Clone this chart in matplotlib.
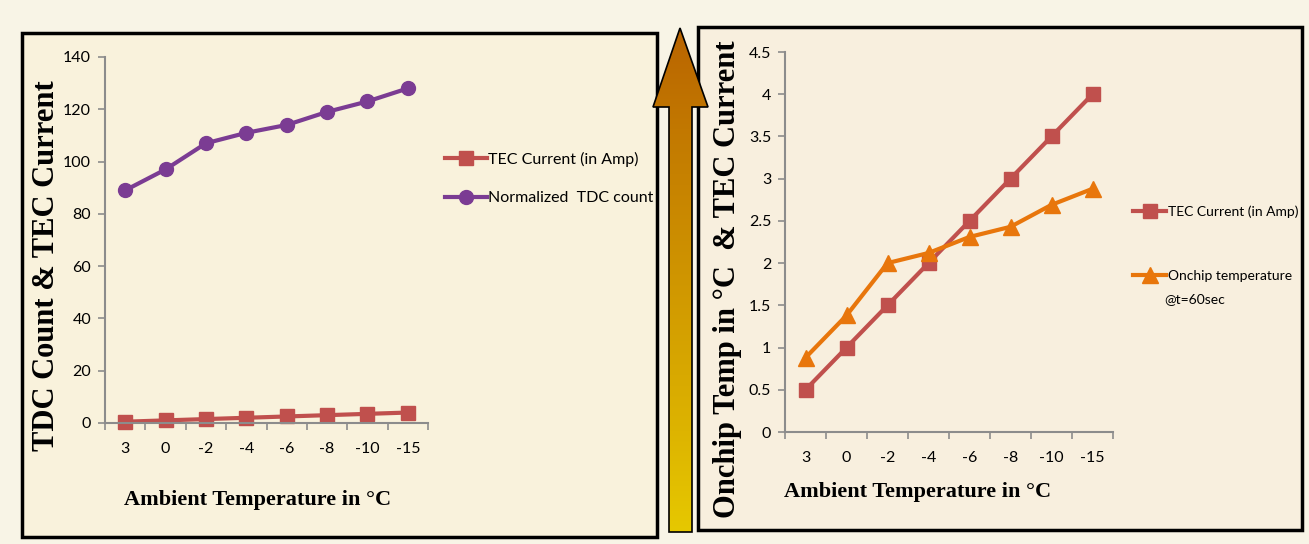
import numpy as np
import matplotlib.pyplot as plt
from matplotlib.patches import Rectangle, Polygon
from matplotlib.colors import LinearSegmentedColormap

# data
ambient = ['3', '0', '-2', '-4', '-6', '-8', '-10', '-15']
tec_current = [0.5, 1.0, 1.5, 2.0, 2.5, 3.0, 3.5, 4.0]
tdc_count = [89, 97, 107, 111, 114, 119, 123, 128]
onchip_temp = [0.88, 1.38, 2.0, 2.12, 2.31, 2.43, 2.69, 2.88]

W, H = 1309, 544
red = '#c0504d'
purple = '#7b3c93'
orange = '#e8760c'
tick_font = ['Lato', 'DejaVu Sans']
serif = ['Liberation Serif', 'DejaVu Serif']

fig = plt.figure(figsize=(W / 100, H / 100), dpi=100)
fig.patch.set_facecolor('#f8f4e6')

def px_axes(x0, y0, x1, y1, **kw):
    # pixel box (top-left origin) -> figure fraction
    return fig.add_axes([x0 / W, 1 - y1 / H, (x1 - x0) / W, (y1 - y0) / H], **kw)

# background overlay: boxes + arrow
bg = px_axes(0, 0, W, H, zorder=0)
bg.set_xlim(0, W)
bg.set_ylim(H, 0)
bg.axis('off')
bg.add_patch(Rectangle((22, 33), 635, 504, facecolor='#f9f2dc', edgecolor='black', lw=2.5))
bg.add_patch(Rectangle((698, 27), 604, 503, facecolor='#f8efde', edgecolor='black', lw=2.5))
arrow_pts = [(669, 532), (669, 107), (653, 107), (680, 28), (708, 107), (692, 107), (692, 532)]
grad = np.linspace(0, 1, 256).reshape(-1, 1)
im = bg.imshow(grad, extent=(653, 708, 532, 28), aspect='auto',
               cmap=LinearSegmentedColormap.from_list('ar', ['#b96400', '#e6c800']), zorder=2)
poly = Polygon(arrow_pts, closed=True, facecolor='none', edgecolor='black', lw=1.2, zorder=3)
bg.add_patch(poly)
im.set_clip_path(poly)

def style(ax, ymax, ystep, fmt):
    x = np.arange(len(ambient))
    ax.set_facecolor('none')
    ax.set_xlim(-0.5, len(ambient) - 0.5)
    ax.set_ylim(0, ymax)
    ax.set_xticks(x)
    ax.set_xticklabels(ambient, family=tick_font, fontsize=11.5)
    ax.set_xticks(np.arange(-0.5, len(ambient)), minor=True)
    ax.tick_params(axis='x', which='major', length=0, pad=14)
    ax.tick_params(axis='x', which='minor', length=5, color='#8c8c8c', width=1.2)
    yt = np.arange(0, ymax + ystep / 2, ystep)
    ax.set_yticks(yt)
    ax.set_yticklabels([fmt(v) for v in yt], family=tick_font, fontsize=11.5)
    ax.tick_params(axis='y', length=5, color='#8c8c8c', width=1.2, pad=5)
    for s in ['top', 'right']:
        ax.spines[s].set_visible(False)
    for s in ['left', 'bottom']:
        ax.spines[s].set_color('#8c8c8c')
        ax.spines[s].set_linewidth(1.5)
    return x

leg_kw = dict(loc='upper left', bbox_transform=fig.transFigure, frameon=False,
              handletextpad=0.1, borderpad=0, borderaxespad=0)

# left chart
ax1 = px_axes(105, 57, 428, 423, zorder=5)
x = style(ax1, 140, 20, lambda v: f'{v:.0f}')
ax1.plot(x, tec_current, color=red, lw=3, marker='s', ms=10, label='TEC Current (in Amp)', clip_on=False)
ax1.plot(x, tdc_count, color=purple, lw=3, marker='o', ms=10, label='Normalized  TDC count', clip_on=False)
ax1.legend(bbox_to_anchor=(445 / W, 1 - 152 / H), labelspacing=1.5, handlelength=2.6,
           prop={'family': tick_font, 'size': 11.5}, **leg_kw)
fig.text(47 / W, 1 - 266 / H, 'TDC Count & TEC Current', rotation=90, ha='center', va='center',
         family=serif, weight='bold', fontsize=22)
fig.text(258 / W, 1 - 500 / H, 'Ambient Temperature in °C', ha='center', va='center',
         family=serif, weight='bold', fontsize=16)

# right chart
ax2 = px_axes(785, 52, 1113, 432, zorder=5)
x = style(ax2, 4.5, 0.5, lambda v: f'{v:g}')
ax2.plot(x, tec_current, color=red, lw=3, marker='s', ms=10, label='TEC Current (in Amp)', clip_on=False)
ax2.plot(x, onchip_temp, color=orange, lw=3, marker='^', ms=11, label='Onchip temperature', clip_on=False)
ax2.legend(bbox_to_anchor=(1133 / W, 1 - 205 / H), labelspacing=3.8, handlelength=2.4,
           prop={'family': tick_font, 'size': 10}, **leg_kw)
fig.text(1164 / W, 1 - 299 / H, '@t=60sec', ha='left', va='center', family=tick_font, fontsize=10)
fig.text(727 / W, 1 - 279 / H, 'Onchip Temp in °C  & TEC Current', rotation=90, ha='center', va='center',
         family=serif, weight='bold', fontsize=22)
fig.text(918 / W, 1 - 492 / H, 'Ambient Temperature in °C', ha='center', va='center',
         family=serif, weight='bold', fontsize=16)

fig.savefig('out.png', dpi=100, facecolor=fig.get_facecolor())
